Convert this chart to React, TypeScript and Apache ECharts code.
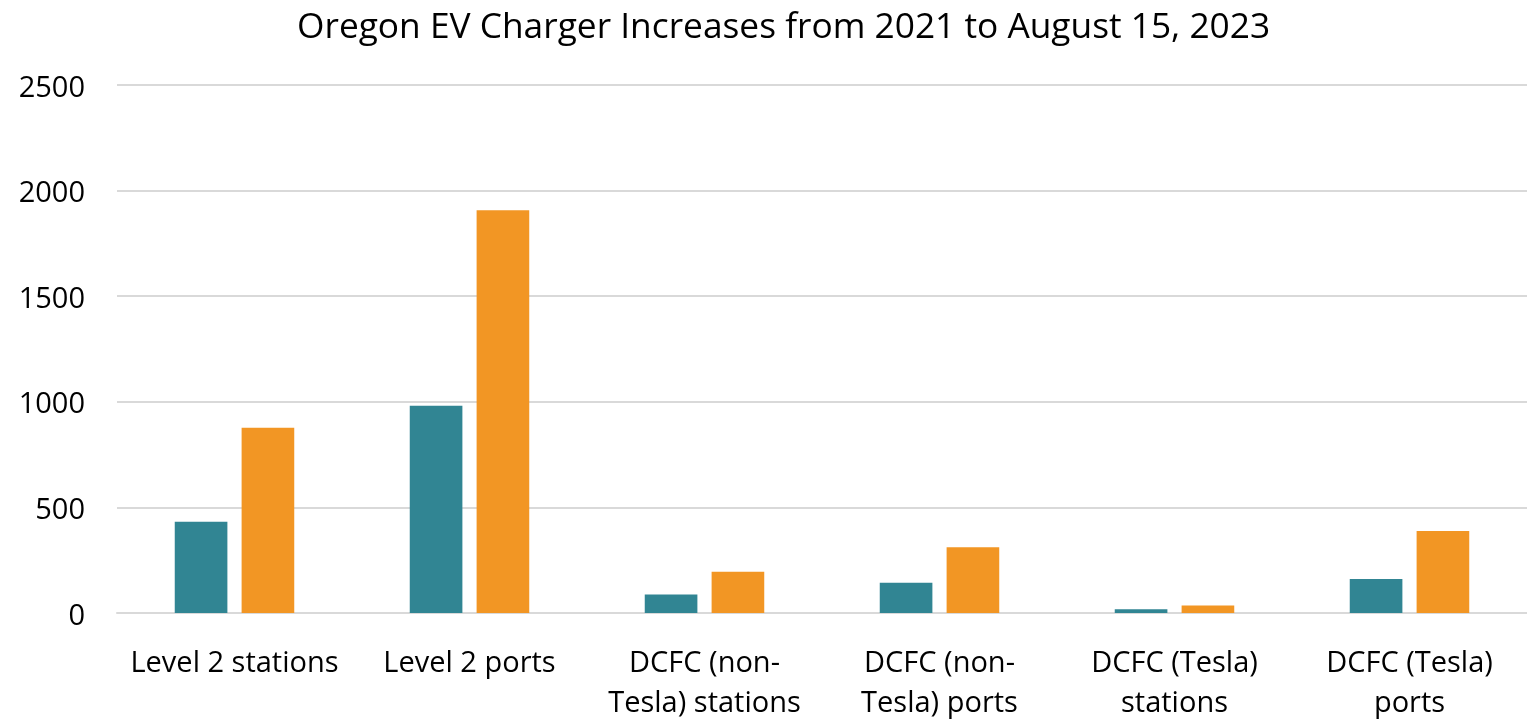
import React, { useEffect, useRef } from "react";
import * as echarts from "echarts";

const categories = [
  "Level 2 stations",
  "Level 2 ports",
  "DCFC (non-\nTesla) stations",
  "DCFC (non-\nTesla) ports",
  "DCFC (Tesla)\nstations",
  "DCFC (Tesla)\nports",
];
const series2021 = [432, 981, 88, 143, 18, 161];
const series2023 = [877, 1907, 195, 311, 36, 388];
const yTicks = [0, 500, 1000, 1500, 2000, 2500];

const FONT = "'Open Sans', 'Noto Sans', sans-serif";

export default function App() {
  const ref = useRef<HTMLDivElement>(null);
  useEffect(() => {
    if (!ref.current) return;
    const chart = echarts.init(ref.current, undefined, { renderer: "svg" });
    chart.setOption({
      animation: false,
      title: {
        text: "Oregon EV Charger Increases from 2021 to August 15, 2023",
        left: 292,
        top: 1,
        textStyle: { fontFamily: FONT, fontSize: 35.3, fontWeight: "normal", color: "#000" },
      },
      grid: { left: 117, right: 0, top: 85, bottom: 107, containLabel: false },
      xAxis: {
        type: "category",
        data: categories,
        axisLine: { lineStyle: { color: "#d9d9d9", width: 2 } },
        axisTick: { show: false },
        axisLabel: {
          interval: 0,
          margin: 27,
          fontFamily: FONT,
          fontSize: 29,
          lineHeight: 40,
          color: "#000",
        },
      },
      yAxis: {
        type: "value",
        min: yTicks[0],
        max: yTicks[yTicks.length - 1],
        interval: 500,
        axisLine: { show: false },
        axisTick: { show: false },
        splitLine: { lineStyle: { color: "#d9d9d9", width: 2 } },
        axisLabel: {
          margin: 32,
          fontFamily: FONT,
          fontSize: 29,
          color: "#000",
          formatter: (v: number) => String(v),
        },
      },
      series: [
        {
          name: "2021",
          type: "bar",
          data: series2021,
          barWidth: "22.4%",
          barGap: "27%",
          itemStyle: { color: "#318593" },
        },
        {
          name: "2023",
          type: "bar",
          data: series2023,
          barWidth: "22.4%",
          itemStyle: { color: "#F29624" },
        },
      ],
    });
    return () => chart.dispose();
  }, []);
  return (
    <div
      ref={ref}
      style={{ position: "fixed", left: 0, top: 0, width: 1527, height: 720 }}
    />
  );
}
